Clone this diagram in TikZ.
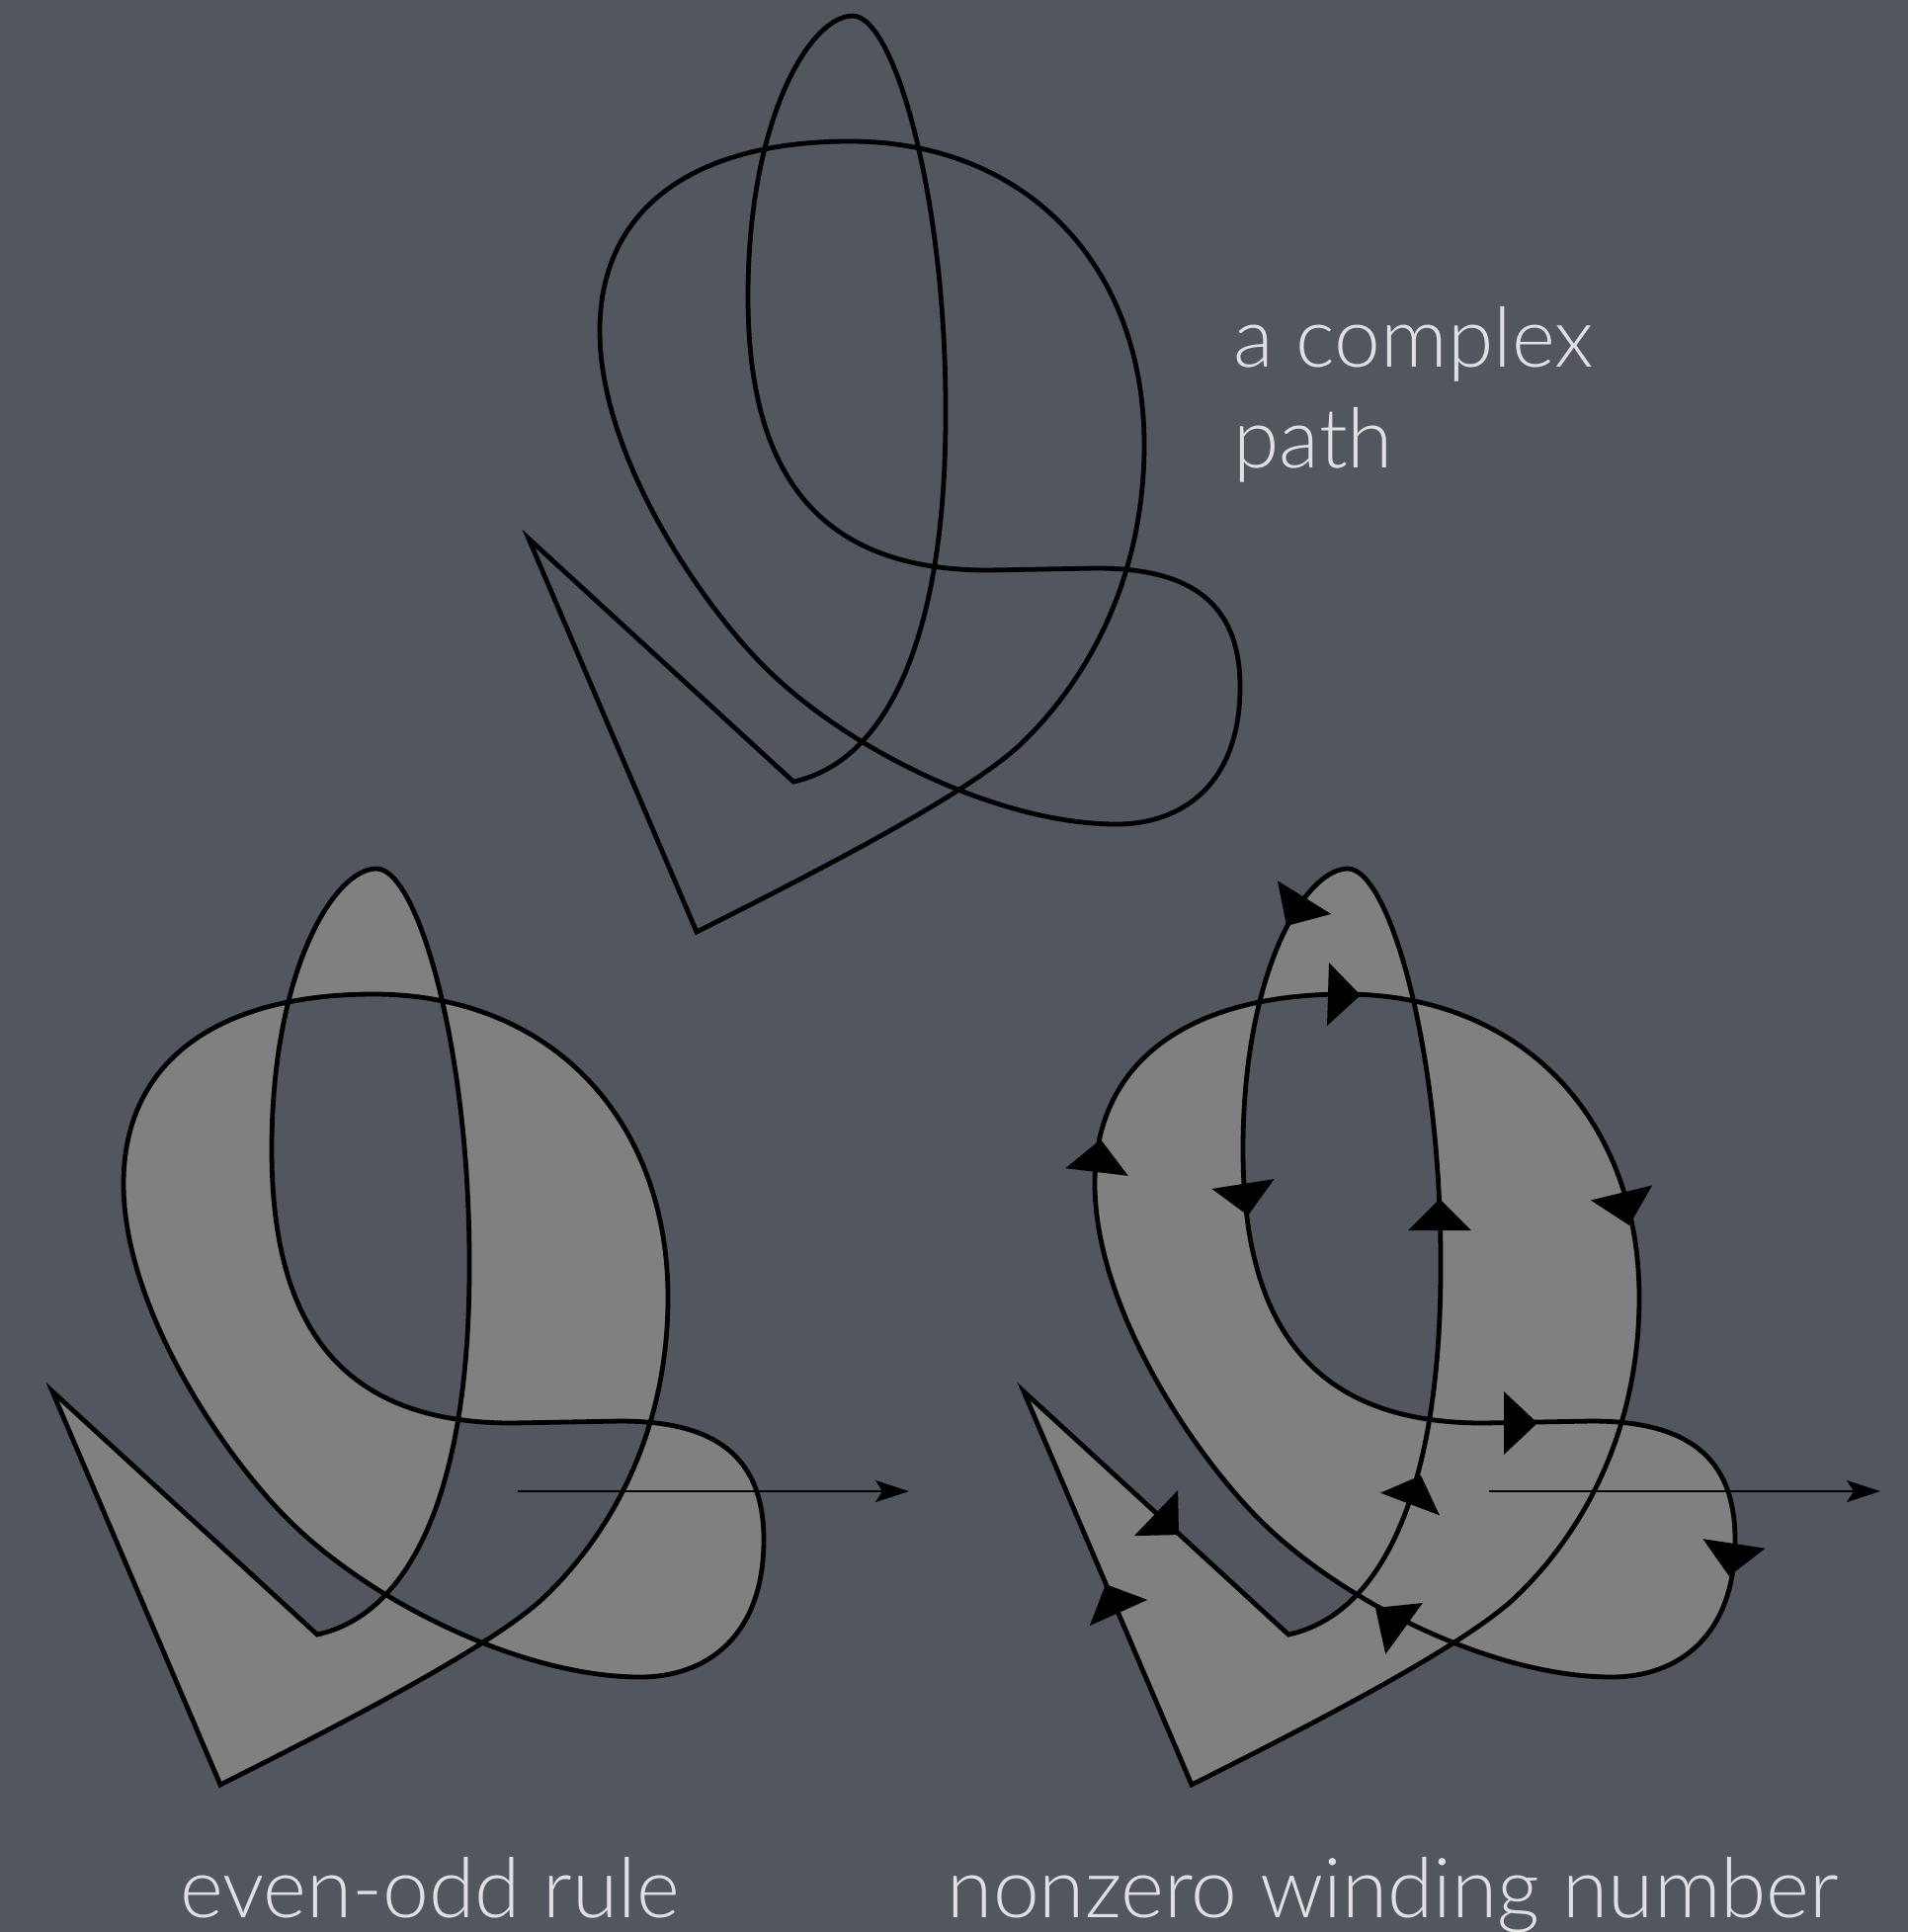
\documentclass[tikz,border=0pt]{standalone}
\usepackage{fontspec}
\IfFontExistsTF{Lato Light}{\setmainfont{Lato Light}}{\setmainfont{TeX Gyre Heros}}
\usetikzlibrary{calc,arrows.meta}
\definecolor{bg}{HTML}{52565E}
\definecolor{fillgray}{HTML}{808080}
\definecolor{txt}{HTML}{E0E0E2}
\newcommand\qpath{(535,545) -- (803,791)
 .. controls (900,770) and (957,640) .. (957,420)
 .. controls (958,200) and (905,16) .. (863,16)
 .. controls (820,16) and (757,120) .. (757,300)
 .. controls (757,470) and (820,577) .. (1000,577)
 -- (1110,575)
 .. controls (1205,575) and (1255,610) .. (1255,695)
 .. controls (1255,795) and (1195,834) .. (1130,834)
 .. controls (1010,834) and (854,757) .. (770,671)
 .. controls (700,599) and (607,455) .. (607,335)
 .. controls (607,205) and (710,143) .. (860,143)
 .. controls (1040,143) and (1158,270) .. (1158,450)
 .. controls (1158,580) and (1105,684) .. (1033,753)
 .. controls (975,808) and (794,898) .. (705,943)
 -- cycle}
\newcommand\wtip[2]{\fill[tipfill] #2 -- ($#1!16pt!90:#2$) -- ($#1!16pt!-90:#2$) -- cycle;}
\begin{document}
\begin{tikzpicture}[x=0.5pt,y=-0.5pt,
  pathline/.style={line width=2.4pt, draw=black, line join=miter},
  ray/.style={line width=1.1pt, draw=black, -{Stealth[length=17pt,width=11pt,inset=3.5pt]}},
  tipfill/.style={fill=black},
  lbl/.style={text=txt, font=\fontsize{42pt}{50pt}\selectfont, inner sep=0pt}]
\useasboundingbox (0,0) rectangle (1931,1955);
\fill[bg] (0,0) rectangle (1931,1955);
% top: the complex path
\draw[pathline] \qpath;
\node[lbl, anchor=base west] (cx1) at (1248,371) {a complex};
\node[lbl, anchor=base west] (cx2) at (1248,473) {path};
% bottom left: even-odd rule
\begin{scope}[shift={(-482,863)}]
  \fill[fillgray, even odd rule] \qpath;
  \draw[pathline] \qpath;
  \coordinate (eoS) at (1006,646);
  \coordinate (eoE) at (1402,646);
  \draw[ray] (eoS) -- (eoE);
\end{scope}
% bottom right: nonzero winding number
\begin{scope}[shift={(501,863)}]
  \fill[fillgray, nonzero rule] \qpath;
  \draw[pathline] \qpath;
  \coordinate (nzS) at (1006,646);
  \coordinate (nzE) at (1402,646);
  \draw[ray] (nzS) -- (nzE);
  \wtip{(819,45)}{(801,74)}
  \wtip{(843,143)}{(876,144)}
  \wtip{(757,335)}{(762,367)}
  \wtip{(956,382)}{(956,350)}
  \wtip{(609,323)}{(613,290)}
  \wtip{(1140,344)}{(1148,377)}
  \wtip{(1021,577)}{(1055,577)}
  \wtip{(1254,699)}{(1249,732)}
  \wtip{(926,659)}{(937,630)}
  \wtip{(669,668)}{(692,690)}
  \wtip{(920,785)}{(891,764)}
  \wtip{(631,769)}{(618,740)}
\end{scope}
\node[lbl, anchor=base] (eo) at (435,1940) {even-odd rule};
\node[lbl, anchor=base] (nz) at (1410,1940) {nonzero winding number};
\end{tikzpicture}
\end{document}
